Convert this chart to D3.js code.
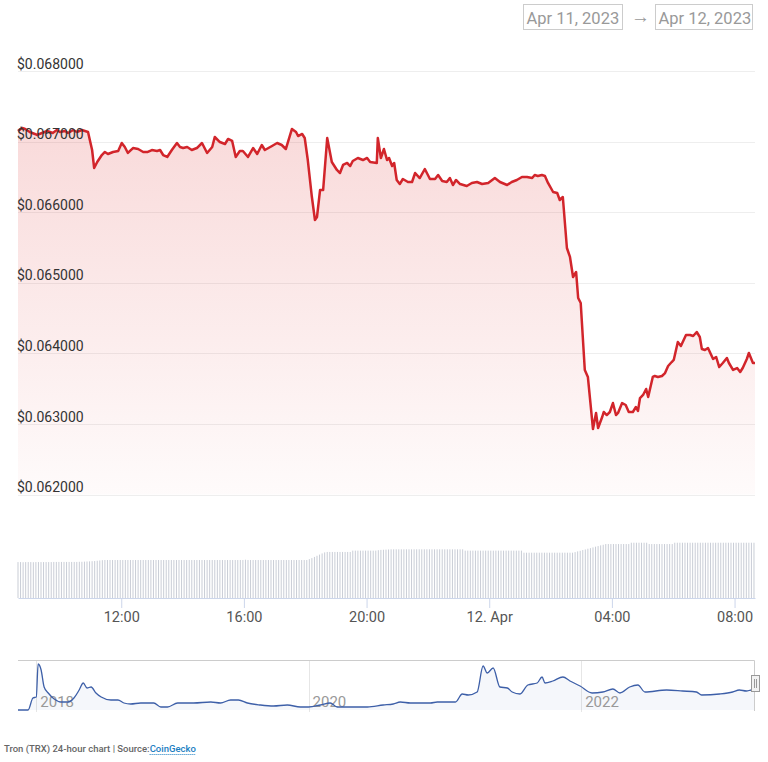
<!DOCTYPE html>
<html><head><meta charset="utf-8">
<script src="https://cdn.jsdelivr.net/npm/d3@7"></script>
<style>
body{margin:0;background:#fff;}
svg{display:block;font-family:Roboto,"Open Sans",sans-serif;}
</style></head><body>
<svg id="chart" width="768" height="762"></svg>
<script>
// ---------- DATA ----------
const startTime = new Date(2023, 3, 11, 8, 38);
const dateRangeLabels = ["Apr 11, 2023", "Apr 12, 2023"];
const yTickValues = [0.062, 0.063, 0.064, 0.065, 0.066, 0.067, 0.068];
// minutes after startTime
const priceMinutes = [0,8,14,23,33,37,47,57,68,76,82,92,98,108,115,125,131,137,145,149,155,164,170,176,186,196,203,209,215,225,235,245,254,262,272,278,284,292,301,311,317,323,331,340,350,
360,370,380,385,395,405,411,419,426,434,440,450,460,468,477,483,497,507,516,524,536,544,548,556,561,567,575,581,585,591,597,605,614,624,630,636,644,650,655,665,675,683,689,702,704,
710,716,722,726,732,736,741,747,753,763,771,777,786,796,806,816,822,830,839,845,851,857,865,878,888,898,908,920,933,943,957,966,976,986,996,1006,1011,1017,1025,1031,1037,1047,1055,1060,1066,
1074,1080,1086,1092,1096,1101,1109,1115,1125,1131,1135,1143,1146,1152,1158,1164,1170,1174,1182,1189,1195,1203,1209,1213,1217,1223,1229,1233,1242,1246,1252,1260,1266,1272,1279,1283,1291,1297,1307,1315,1321,1328,1334,1338,1344,1350,1360,1366,1372,1379,1387,1391,1399,1407,1413,1418,1426,1430,1438,1442];
const priceValues = [0.067150,0.067193,0.067179,0.067136,0.067108,0.067094,0.067122,0.067150,0.067122,0.067164,0.067136,0.067150,0.067122,0.067164,0.067136,0.067164,0.067150,0.067136,0.066881,0.066626,0.066711,0.066810,0.066853,0.066824,0.066853,0.066867,0.066980,0.066924,0.066839,0.066909,0.066895,0.066853,0.066853,0.066881,0.066867,0.066881,0.066810,0.066782,0.066881,0.066980,0.066924,0.066909,0.066924,0.066881,0.066909,
0.066980,0.066839,0.066924,0.067065,0.066994,0.066966,0.067037,0.067009,0.066782,0.066867,0.066867,0.066782,0.066909,0.066824,0.066952,0.066881,0.066938,0.066980,0.066952,0.066895,0.067179,0.067136,0.067079,0.067108,0.067051,0.066739,0.066215,0.065890,0.065932,0.066314,0.066314,0.067051,0.066711,0.066598,0.066555,0.066669,0.066697,0.066654,0.066725,0.066768,0.066739,0.066768,0.066711,0.066697,0.067051,
0.066768,0.066895,0.066739,0.066768,0.066654,0.066697,0.066456,0.066399,0.066470,0.066428,0.066428,0.066555,0.066484,0.066612,0.066470,0.066470,0.066527,0.066442,0.066428,0.066484,0.066385,0.066456,0.066399,0.066371,0.066414,0.066428,0.066399,0.066414,0.066484,0.066428,0.066385,0.066428,0.066456,0.066499,0.066499,0.066484,0.066527,0.066513,0.066527,0.066513,0.066414,0.066286,0.066272,0.066173,0.066215,
0.065493,0.065366,0.065082,0.065153,0.064785,0.064714,0.063765,0.063666,0.062929,0.063156,0.062943,0.063099,0.063170,0.063127,0.063170,0.063297,0.063127,0.063156,0.063297,0.063269,0.063170,0.063170,0.063241,0.063184,0.063368,0.063411,0.063496,0.063382,0.063666,0.063680,0.063666,0.063680,0.063722,0.063822,0.063878,0.063907,0.064161,0.064105,0.064261,0.064261,0.064246,0.064303,0.064232,0.064062,0.064048,0.064077,0.063921,0.063949,0.063807,0.063864,0.063935,0.063864,0.063765,0.063793,0.063737,0.063793,0.063921,0.064006,0.063864,0.063864];
// 24h volume (million USD), one value every 5 minutes from startTime
const volumeStepMinutes = 5;
const volumeValues = [
245,245,244,245,245,245,244,245,245,245,245,245,
245,245,246,246,246,246,246,246,246,246,246,246,
247,247,248,249,250,251,252,254,256,258,259,259,
259,259,259,259,259,259,259,259,259,259,259,259,
259,259,259,259,259,259,259,259,259,259,259,259,
259,259,259,259,259,259,259,259,259,259,259,259,
259,259,259,259,259,259,259,259,259,259,259,259,
259,259,259,259,259,261,259,259,259,259,259,259,
259,259,259,259,259,259,259,259,259,259,259,259,
259,259,259,259,259,259,265,272,280,288,296,304,
311,314,314,314,314,314,314,314,314,314,314,323,
323,323,323,323,323,323,323,323,323,326,328,329,
330,331,332,332,332,332,332,332,332,332,332,332,
332,332,332,332,332,332,332,332,332,332,332,332,
332,332,332,332,332,332,332,323,323,323,323,323,
323,323,323,323,323,323,323,323,323,323,323,323,
323,323,323,323,323,323,309,309,309,309,309,309,
309,309,309,309,309,309,309,309,309,309,309,309,
309,309,313,318,322,327,331,336,340,345,350,354,
359,363,368,368,368,368,368,368,368,368,368,368,
377,377,377,377,377,377,377,368,368,368,368,368,
368,368,368,368,368,377,377,377,377,377,377,377,
377,377,377,377,377,377,377,377,377,377,377,377,
377,377,377,377,377,377,377,377,377,377,377,377,
377];
// navigator: full price history
const navDates = ["2017-11-13","2017-12-10","2017-12-23","2018-01-01","2018-01-06","2018-01-14","2018-01-22","2018-02-02","2018-02-18","2018-03-08","2018-03-27","2018-04-12","2018-04-26","2018-05-07","2018-05-17","2018-05-28","2018-06-10","2018-06-24","2018-07-20","2018-08-08","2018-08-24","2018-09-11","2018-10-08","2018-11-12","2018-12-01","2018-12-19","2019-01-15","2019-02-27","2019-04-14","2019-05-10","2019-06-06","2019-06-27","2019-07-21","2019-08-25","2019-09-29","2019-11-05","2019-12-10","2020-01-01","2020-02-02","2020-02-28","2020-03-18","2020-04-22","2020-06-07","2020-07-19","2020-08-15","2020-09-03","2020-09-30","2020-11-23","2020-12-11","2021-01-29","2021-02-16","2021-03-04","2021-03-28","2021-04-13","2021-04-24","2021-05-10","2021-05-28","2021-06-17","2021-06-30","2021-07-21","2021-08-11","2021-09-05","2021-09-18","2021-09-26","2021-10-17","2021-11-13","2021-12-02","2021-12-29","2022-01-30","2022-02-28","2022-03-27","2022-04-15","2022-05-11","2022-06-02","2022-06-21","2022-08-18","2022-09-30","2022-11-06","2022-11-20","2023-01-07","2023-02-11","2023-03-01","2023-03-20","2023-04-03","2023-04-12"];
const navPrices = [0.0018,0.0018,0.0606,0.0655,0.2272,0.1978,0.1145,0.0851,0.0557,0.0410,
0.0410,0.0606,0.0998,0.1341,0.1096,0.1145,0.0851,0.0655,0.0508,0.0508,
0.0361,0.0312,0.0361,0.0361,0.0165,0.0165,0.0361,0.0361,0.0410,0.0361,
0.0508,0.0508,0.0361,0.0263,0.0214,0.0263,0.0165,0.0165,0.0263,0.0361,
0.0165,0.0165,0.0165,0.0263,0.0312,0.0410,0.0361,0.0361,0.0410,0.0410,
0.0802,0.0753,0.0900,0.2174,0.1831,0.2076,0.1145,0.1096,0.0900,0.0802,
0.1243,0.1341,0.1635,0.1341,0.1439,0.1635,0.1439,0.1194,0.0851,0.0900,
0.1047,0.0851,0.1145,0.1243,0.0900,0.0998,0.0949,0.0900,0.0753,0.0802,
0.0900,0.0998,0.0949,0.0998,0.0998];
const navYearTicks = ["2018", "2020", "2022"];
const captionText = "Tron (TRX) 24-hour chart | Source:";
const captionLink = "CoinGecko";

// ---------- BUILD ----------
const svg = d3.select("#chart");
const addMin = m => new Date(startTime.getTime() + m * 60000);
const priceData = priceMinutes.map((m, i) => ({t: addMin(m), v: priceValues[i]}));
const volData = volumeValues.map((v, i) => ({t: addMin(i * volumeStepMinutes), v}));

const L = 18, R = 755;
const x = d3.scaleTime().domain(d3.extent(priceData, d => d.t)).range([L, R]);
const y = d3.scaleLinear().domain([0.062, 0.068]).range([494.6, 71]);
const yv = d3.scaleLinear().domain([0, 600]).range([598, 510]);

// range selector inputs
const boxes = [{x: 523.5, w: 99}, {x: 655.5, w: 97}];
boxes.forEach((b, i) => {
  svg.append("rect").attr("x", b.x).attr("y", 4.5).attr("width", b.w).attr("height", 25)
    .attr("fill", "#fff").attr("stroke", "#cccccc");
  svg.append("text").attr("x", b.x + 3).attr("y", 24).attr("font-size", 16.5)
    .attr("fill", "#999").text(dateRangeLabels[i]);
});
svg.append("text").attr("x", 631).attr("y", 23).attr("font-size", 19).attr("fill", "#999").text("→");

// gridlines
svg.append("g").selectAll("line").data(yTickValues).join("line")
  .attr("x1", L).attr("x2", R)
  .attr("y1", d => Math.round(y(d)) + 0.5).attr("y2", d => Math.round(y(d)) + 0.5)
  .attr("stroke", "#eeeeee");

// area gradient
const defs = svg.append("defs");
const grad = defs.append("linearGradient").attr("id", "ag").attr("gradientUnits", "userSpaceOnUse")
  .attr("x1", 0).attr("x2", 0).attr("y1", y(0.068)).attr("y2", y(0.062));
grad.append("stop").attr("offset", 0).attr("stop-color", "#dc2e2e").attr("stop-opacity", 0.2);
grad.append("stop").attr("offset", 1).attr("stop-color", "#dc2e2e").attr("stop-opacity", 0.02);

svg.append("path").datum(priceData)
  .attr("d", d3.area().x(d => x(d.t)).y0(y(0.062)).y1(d => y(d.v)))
  .attr("fill", "url(#ag)");
svg.append("path").datum(priceData)
  .attr("d", d3.line().x(d => x(d.t)).y(d => y(d.v)))
  .attr("fill", "none").attr("stroke", "#d2252b").attr("stroke-width", 2.5)
  .attr("stroke-linejoin", "round");

// y labels
svg.append("g").selectAll("text").data(yTickValues).join("text")
  .attr("x", 17).attr("y", d => y(d) - 2.5).attr("font-size", 14).attr("fill", "#333")
  .text(d => "$" + d.toFixed(6));

// volume bars
svg.append("g").selectAll("rect").data(volData).join("rect")
  .attr("x", d => x(d.t) - 0.5).attr("width", 1)
  .attr("y", d => yv(d.v)).attr("height", d => yv(0) - yv(d.v))
  .attr("fill", "#c9cdd6");

// x axis
const fmt = d => (d.getHours() === 0 ? d3.timeFormat("%-d. %b")(d) : d3.timeFormat("%H:%M")(d));
const xAxis = svg.append("g").attr("transform", "translate(0,598)")
  .call(d3.axisBottom(x).ticks(d3.timeHour.every(4)).tickFormat(fmt).tickSize(10).tickSizeOuter(0));
xAxis.select(".domain").attr("stroke", "#ccd6eb");
xAxis.selectAll(".tick line").attr("stroke", "#ccd6eb");
xAxis.selectAll(".tick text").attr("font-size", 14.5).attr("fill", "#555")
  .attr("font-family", "Roboto").attr("dy", "0").attr("y", 24);

// navigator
const navData = navDates.map((d, i) => ({t: new Date(d + "T00:00:00"), v: navPrices[i]}));
const xn = d3.scaleTime().domain(d3.extent(navData, d => d.t)).range([L, R]);
const yn = d3.scaleLinear().domain(d3.extent(navData, d => d.v)).range([710, 664]);
const navG = svg.append("g");
navYearTicks.forEach(yr => {
  const xx = Math.round(xn(new Date(+yr, 0, 1))) + 0.5;
  navG.append("line").attr("x1", xx).attr("x2", xx).attr("y1", 660).attr("y2", 712)
    .attr("stroke", "#e6e6e6");
});
navG.append("path").datum(navData)
  .attr("d", d3.area().curve(d3.curveMonotoneX).x(d => xn(d.t)).y0(710).y1(d => yn(d.v)))
  .attr("fill", "rgba(51,92,173,0.05)");
navYearTicks.forEach(yr => {
  const xx = xn(new Date(+yr, 0, 1));
  navG.append("text").attr("x", xx + 4).attr("y", 707).attr("font-size", 15)
    .attr("fill", "#999").text(yr);
});
navG.append("path").datum(navData)
  .attr("d", d3.line().curve(d3.curveMonotoneX).x(d => xn(d.t)).y(d => yn(d.v)))
  .attr("fill", "none").attr("stroke", "#3d5fa8").attr("stroke-width", 1.3);
// outline
navG.append("path").attr("d", `M${L},660.5H${R - 0.5}V711`).attr("fill", "none").attr("stroke", "#cccccc");
// handle
navG.append("rect").attr("x", 751.5).attr("y", 675.5).attr("width", 8).attr("height", 16)
  .attr("fill", "#f2f2f2").attr("stroke", "#999");
[754.5, 756.5].forEach(hx => navG.append("line").attr("x1", hx).attr("x2", hx)
  .attr("y1", 679).attr("y2", 688).attr("stroke", "#999"));

// caption
const cap = svg.append("text").attr("x", 4).attr("y", 752).attr("font-size", 9.5)
  .attr("font-weight", 500).attr("fill", "#666");
cap.append("tspan").text(captionText);
const link = cap.append("tspan").attr("fill", "#1b7ec2").text(captionLink);
const capNode = cap.node();
const total = capNode.getComputedTextLength();
const linkLen = link.node().getComputedTextLength();
svg.append("line").attr("x1", 4 + total - linkLen).attr("x2", 4 + total)
  .attr("y1", 754.5).attr("y2", 754.5).attr("stroke", "#1b7ec2").attr("stroke-dasharray", "1,1");
</script>
</body></html>
